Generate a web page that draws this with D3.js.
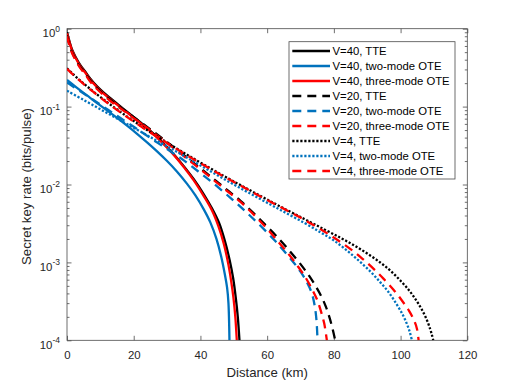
<!DOCTYPE html>
<html>
<head>
<meta charset="utf-8">
<script src="https://cdn.jsdelivr.net/npm/d3@7"></script>
<style>
  body { margin: 0; background: #fff; }
  text { font-family: "Liberation Sans", Arial, Helvetica, sans-serif; }
</style>
</head>
<body>
<div id="chart"></div>
<script>
// ---- data (distance in km, key rate in bits/pulse) ----
var seriesNames = [
  "V=40, TTE", "V=40, two-mode OTE", "V=40, three-mode OTE",
  "V=20, TTE", "V=20, two-mode OTE", "V=20, three-mode OTE",
  "V=4, TTE", "V=4, two-mode OTE", "V=4, three-mode OTE"
];

var distV40TTE = [0, 0.5, 1, 1.5, 2.5, 4, 5.5, 7, 9, 11, 13, 15, 17, 19, 21, 23, 25, 28, 32, 35, 38, 41, 43.5, 45.6, 47.3, 48.8, 49.8, 50.6, 51.2, 51.7];
var rateV40TTE = [0.9, 0.75, 0.63, 0.54, 0.44, 0.34, 0.28, 0.228, 0.182, 0.151, 0.128, 0.109, 0.093, 0.0795, 0.068, 0.058, 0.049, 0.037, 0.0245, 0.0172, 0.0117, 0.0075, 0.0049, 0.0032, 0.0019, 0.00105, 0.00063, 0.00035, 0.0002, 0.0001];

var distV40Two = [0, 3, 6, 9, 12, 15, 18, 21, 24, 27, 30, 33, 36, 38.5, 41, 43, 44.8, 46.2, 47.3, 48, 48.4, 48.7];
var rateV40Two = [0.22, 0.174, 0.139, 0.111, 0.0895, 0.0716, 0.0569, 0.0447, 0.0347, 0.0266, 0.02, 0.0146, 0.0102, 0.00724, 0.00479, 0.00324, 0.002, 0.0012, 0.00071, 0.00047, 0.0003, 0.0001];

var distV40Three = [0, 0.5, 1, 1.5, 2.5, 4, 5.5, 7, 9, 11, 13, 15, 17, 19, 21, 23, 25, 28, 32, 35, 38, 41, 43.4, 45.4, 47, 48.4, 49.2, 49.9, 50.5, 50.9];
var rateV40Three = [0.87, 0.73, 0.615, 0.525, 0.428, 0.33, 0.272, 0.221, 0.177, 0.147, 0.125, 0.106, 0.091, 0.0775, 0.0665, 0.0567, 0.048, 0.0362, 0.024, 0.0168, 0.0113, 0.0071, 0.0047, 0.0029, 0.00174, 0.00093, 0.00058, 0.00035, 0.00019, 0.0001];

var distV20TTE = [0, 0.5, 1, 1.5, 2.5, 4, 5.5, 7, 9, 11, 13, 15, 17, 20, 24, 28, 32, 36, 40, 44, 48, 52, 56, 60, 64, 67, 70, 72.5, 74.5, 76.2, 77.6, 78.7, 79.6, 80.4];
var rateV20TTE = [0.82, 0.68, 0.58, 0.5, 0.41, 0.32, 0.265, 0.215, 0.173, 0.144, 0.122, 0.105, 0.091, 0.0733, 0.055, 0.0407, 0.0302, 0.0221, 0.0162, 0.01175, 0.00851, 0.00617, 0.00427, 0.00288, 0.00191, 0.00136, 0.00095, 0.00068, 0.0005, 0.00037, 0.00027, 0.000195, 0.000141, 0.0001];

var distV20Two = [0, 5, 10, 15, 20, 25, 30, 35, 40, 45, 50, 54, 58, 62, 65, 68, 70, 72, 73.4, 74.3, 74.8, 75.1];
var rateV20Two = [0.204, 0.147, 0.106, 0.0762, 0.055, 0.0395, 0.0285, 0.0204, 0.014, 0.00944, 0.00617, 0.00431, 0.00295, 0.00197, 0.00141, 0.00099, 0.00076, 0.00055, 0.0004, 0.00027, 0.000178, 0.0001];

var distV20Three = [0, 0.5, 1, 1.5, 2.5, 4, 5.5, 7, 9, 11, 13, 15, 17, 20, 24, 28, 32, 36, 40, 44, 48, 52, 56, 60, 63.5, 66.5, 69.3, 71.6, 73.5, 75, 76.2, 77.1, 77.9];
var rateV20Three = [0.8, 0.66, 0.565, 0.487, 0.4, 0.312, 0.258, 0.209, 0.168, 0.14, 0.118, 0.102, 0.0885, 0.0712, 0.0535, 0.0395, 0.0293, 0.0214, 0.0157, 0.0114, 0.00825, 0.00598, 0.0041, 0.0027, 0.0018, 0.00127, 0.00088, 0.00063, 0.00045, 0.00033, 0.00023, 0.000165, 0.0001];

var distV4TTE = [0, 2, 4, 6, 8, 11, 14, 17, 20, 24, 30, 36, 43, 50, 57, 64, 71, 77, 82, 86, 90, 94, 97, 100, 102.5, 104.5, 106.3, 107.8, 108.9, 109.4, 109.8];
var rateV4TTE = [0.31, 0.257, 0.215, 0.182, 0.155, 0.123, 0.0986, 0.0798, 0.0652, 0.0501, 0.0345, 0.0241, 0.0161, 0.01094, 0.00752, 0.0052, 0.00363, 0.00267, 0.00207, 0.00166, 0.0013, 0.00099, 0.00078, 0.00058, 0.00044, 0.000335, 0.000251, 0.000186, 0.000138, 0.000117, 0.0001];

var distV4Two = [0, 5, 10, 15, 20, 25, 30, 36, 43, 50, 57, 64, 71, 76, 80, 84, 87.5, 91, 94, 96.5, 98.7, 100.5, 101.9, 102.8, 103.4];
var rateV4Two = [0.16, 0.1216, 0.0925, 0.0703, 0.0535, 0.0406, 0.0309, 0.0221, 0.0148, 0.01, 0.00684, 0.00471, 0.00324, 0.00243, 0.00191, 0.00141, 0.00105, 0.00076, 0.00055, 0.00041, 0.000295, 0.000219, 0.000162, 0.000126, 0.0001];

var distV4Three = [0, 2, 4, 6, 8, 11, 14, 17, 20, 24, 30, 36, 43, 50, 57, 64, 71, 77, 81, 85, 88.5, 92, 95, 98, 100.5, 102.5, 104, 104.9, 105.4];
var rateV4Three = [0.305, 0.253, 0.212, 0.179, 0.153, 0.121, 0.0971, 0.0786, 0.0642, 0.0494, 0.034, 0.0237, 0.0158, 0.0108, 0.0074, 0.00513, 0.00355, 0.00251, 0.00195, 0.00148, 0.00112, 0.00082, 0.00061, 0.00044, 0.00032, 0.00024, 0.000182, 0.000141, 0.0001];

var xTicks = [0, 20, 40, 60, 80, 100, 120];
var yDecades = [-4, -3, -2, -1, 0];

var allDist = [distV40TTE, distV40Two, distV40Three, distV20TTE, distV20Two, distV20Three, distV4TTE, distV4Two, distV4Three];
var allRate = [rateV40TTE, rateV40Two, rateV40Three, rateV20TTE, rateV20Two, rateV20Three, rateV4TTE, rateV4Two, rateV4Three];

// ---- styles ----
var blue = "#0072BD", red = "#FF0000", black = "#000000";
var styles = [
  { color: black, dash: null }, { color: blue, dash: null }, { color: red, dash: null },
  { color: black, dash: "9,6" }, { color: blue, dash: "9,6" }, { color: red, dash: "9,6" },
  { color: black, dash: "2.2,1.8" }, { color: blue, dash: "2.2,1.8" }, { color: red, dash: "9,6" }
];

var W = 518, H = 382;
var padLeft = 67, padTop = 28.7, plotW = 400.3, plotH = 311.6;
var axisColor = "#4a4a4a", textColor = "#262626";

var svg = d3.select("#chart").append("svg").attr("width", W).attr("height", H);
var g = svg.append("g").attr("transform", "translate(" + padLeft + "," + padTop + ")");

var x = d3.scaleLinear().domain([0, 120]).range([0, plotW]);
var y = d3.scaleLog().domain([1e-4, 1]).range([plotH, 0]);

svg.append("defs").append("clipPath").attr("id", "clip")
  .append("rect").attr("x", 0).attr("y", 0).attr("width", plotW).attr("height", plotH);

// minor / major y tick values
var yMajor = yDecades.map(function(e) { return Math.pow(10, e); });
var yMinor = [];
yDecades.slice(0, -1).forEach(function(e) {
  for (var k = 2; k <= 9; k++) yMinor.push(k * Math.pow(10, e));
});

function styleAxis(sel) {
  sel.select(".domain").remove();
  sel.selectAll(".tick line").attr("stroke", axisColor).attr("stroke-width", 0.8);
  sel.selectAll(".tick text").attr("fill", textColor).style("font-size", "11.4px");
}

// bottom and top x axes, ticks inward
g.append("g").attr("transform", "translate(0," + plotH + ")")
  .call(d3.axisBottom(x).tickValues(xTicks).tickSizeInner(-4.5).tickSizeOuter(0).tickPadding(10.5))
  .call(styleAxis);
g.append("g")
  .call(d3.axisTop(x).tickValues(xTicks).tickSizeInner(-4.5).tickSizeOuter(0).tickFormat(""))
  .call(styleAxis);

// left and right y axes, major + minor ticks inward
g.append("g").call(d3.axisLeft(y).tickValues(yMajor).tickSizeInner(-4.5).tickSizeOuter(0).tickFormat("")).call(styleAxis);
g.append("g").call(d3.axisLeft(y).tickValues(yMinor).tickSizeInner(-2.5).tickSizeOuter(0).tickFormat("")).call(styleAxis);
g.append("g").attr("transform", "translate(" + plotW + ",0)")
  .call(d3.axisRight(y).tickValues(yMajor).tickSizeInner(-4.5).tickSizeOuter(0).tickFormat("")).call(styleAxis);
g.append("g").attr("transform", "translate(" + plotW + ",0)")
  .call(d3.axisRight(y).tickValues(yMinor).tickSizeInner(-2.5).tickSizeOuter(0).tickFormat("")).call(styleAxis);

// y tick labels 10^n
yDecades.forEach(function(e) {
  var t = g.append("text")
    .attr("x", -7).attr("y", y(Math.pow(10, e)) + 8.5)
    .attr("text-anchor", "end").attr("fill", textColor)
    .style("font-size", "11.4px");
  t.append("tspan").text("10");
  t.append("tspan").attr("dy", -5.5).style("font-size", "8.5px").text(String(e));
});

// box
g.append("rect").attr("width", plotW).attr("height", plotH)
  .attr("fill", "none").attr("stroke", axisColor).attr("stroke-width", 0.8);

// curves
var line = d3.line()
  .x(function(d) { return x(d[0]); })
  .y(function(d) { return y(d[1]); })
  .curve(d3.curveCatmullRom.alpha(0.5));

var plot = g.append("g").attr("clip-path", "url(#clip)");
allDist.forEach(function(dist, i) {
  var pts = dist.map(function(d, j) { return [d, allRate[i][j]]; });
  plot.append("path")
    .attr("d", line(pts))
    .attr("fill", "none")
    .attr("stroke", styles[i].color)
    .attr("stroke-width", 2.3)
    .attr("stroke-dasharray", styles[i].dash)
    .attr("stroke-linejoin", "round");
});

// axis labels
svg.append("text")
  .attr("x", padLeft + plotW / 2).attr("y", 377)
  .attr("text-anchor", "middle").attr("fill", textColor)
  .style("font-size", "13.2px")
  .text("Distance (km)");
svg.append("text")
  .attr("transform", "translate(31," + (padTop + plotH / 2 + 2) + ") rotate(-90)")
  .attr("text-anchor", "middle").attr("fill", textColor)
  .style("font-size", "13.2px")
  .text("Secret key rate (bits/pulse)");

// legend
var lx = 289, ly = 41.7, lw = 166, lh = 137.3;
var legend = svg.append("g");
legend.append("rect").attr("x", lx).attr("y", ly).attr("width", lw).attr("height", lh)
  .attr("fill", "#fff").attr("stroke", axisColor).attr("stroke-width", 0.8);
seriesNames.forEach(function(name, i) {
  var cy = 51 + i * 15;
  legend.append("line")
    .attr("x1", 292.3).attr("x2", 330).attr("y1", cy).attr("y2", cy)
    .attr("stroke", styles[i].color).attr("stroke-width", 2.3)
    .attr("stroke-dasharray", styles[i].dash);
  legend.append("text")
    .attr("x", 332.5).attr("y", cy + 4)
    .attr("fill", "#000")
    .style("font-size", "11.3px")
    .text(name);
});
</script>
</body>
</html>
